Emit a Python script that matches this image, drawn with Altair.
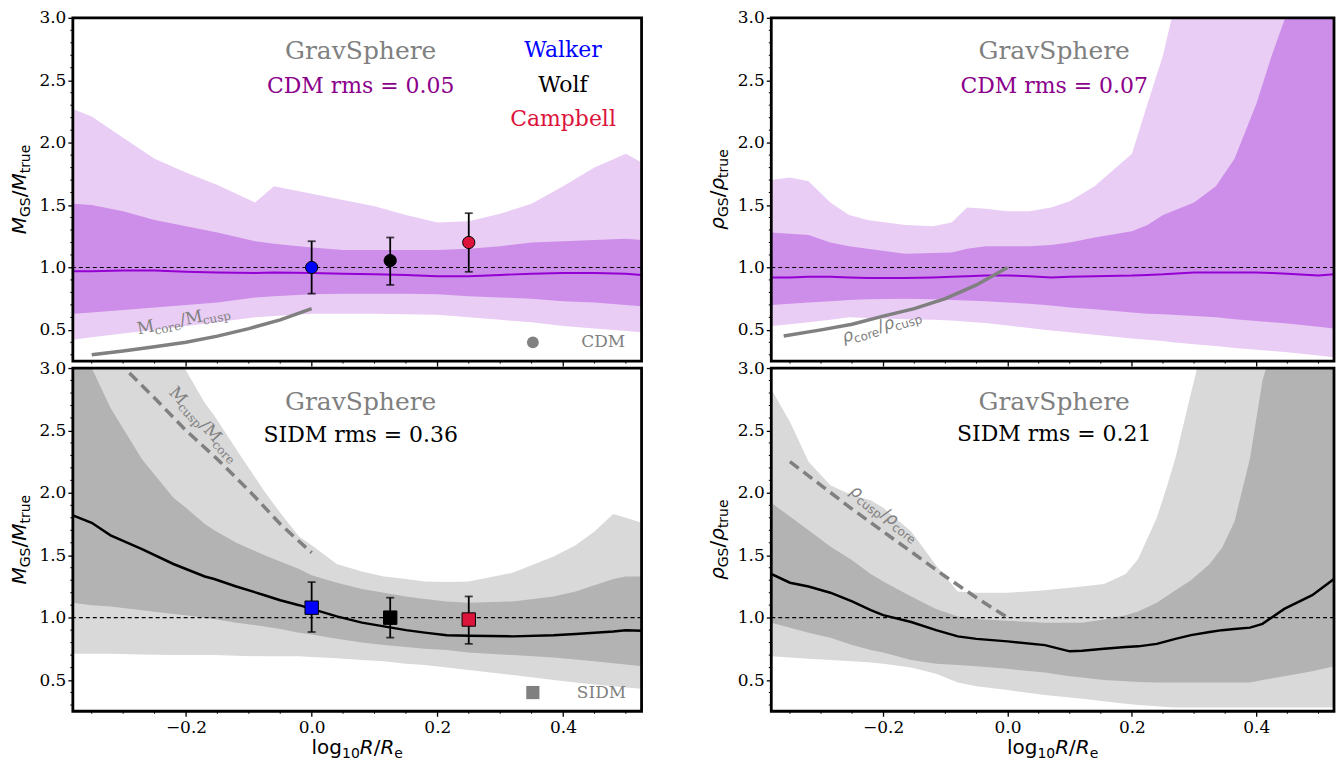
import altair as alt
import pandas as pd

# ------------------------------------------------------------------ data
# top-left: M_GS/M_true, CDM
X_TL = [-0.38, -0.35, -0.30, -0.25, -0.20, -0.15, -0.09, -0.06, 0.00, 0.05,
        0.10, 0.15, 0.20, 0.25, 0.30, 0.35, 0.40, 0.45, 0.50, 0.525]
TL_LO95 = [0.42, 0.44, 0.47, 0.50, 0.53, 0.56, 0.60, 0.61, 0.63, 0.63,
           0.63, 0.625, 0.62, 0.60, 0.58, 0.56, 0.53, 0.51, 0.49, 0.48]
TL_LO68 = [0.63, 0.64, 0.66, 0.68, 0.70, 0.72, 0.76, 0.77, 0.785, 0.79,
           0.79, 0.79, 0.785, 0.77, 0.76, 0.75, 0.73, 0.72, 0.70, 0.69]
TL_MED = [0.97, 0.97, 0.975, 0.975, 0.965, 0.96, 0.955, 0.96, 0.955, 0.95,
          0.945, 0.94, 0.93, 0.93, 0.94, 0.95, 0.955, 0.955, 0.95, 0.94]
TL_HI68 = [1.51, 1.50, 1.45, 1.38, 1.33, 1.28, 1.21, 1.19, 1.16, 1.14,
           1.14, 1.14, 1.14, 1.15, 1.17, 1.20, 1.21, 1.22, 1.23, 1.22]
TL_HI95 = [2.27, 2.21, 2.04, 1.87, 1.76, 1.66, 1.52, 1.65, 1.59, 1.54,
           1.49, 1.42, 1.36, 1.37, 1.43, 1.51, 1.65, 1.80, 1.91, 1.84]

# top-right: rho_GS/rho_true, CDM
X_TR = [-0.38, -0.35, -0.32, -0.285, -0.255, -0.225, -0.165, -0.12, -0.09, -0.065,
        -0.035, 0.0, 0.035, 0.07, 0.10, 0.14, 0.20, 0.225, 0.25, 0.265,
        0.30, 0.335, 0.365, 0.40, 0.425, 0.45, 0.50, 0.525]
TR_LO95 = [0.53, 0.545, 0.56, 0.58, 0.60, 0.595, 0.585, 0.58, 0.575, 0.565,
           0.555, 0.535, 0.515, 0.495, 0.48, 0.46, 0.43, 0.42, 0.41, 0.40,
           0.385, 0.37, 0.355, 0.34, 0.33, 0.32, 0.295, 0.28]
TR_LO68 = [0.70, 0.71, 0.72, 0.73, 0.74, 0.745, 0.75, 0.745, 0.74, 0.735,
           0.73, 0.72, 0.71, 0.695, 0.68, 0.665, 0.64, 0.63, 0.625, 0.62,
           0.61, 0.60, 0.585, 0.57, 0.56, 0.55, 0.525, 0.51]
TR_MED = [0.92, 0.92, 0.925, 0.925, 0.92, 0.915, 0.915, 0.92, 0.925, 0.93,
          0.935, 0.935, 0.93, 0.92, 0.925, 0.93, 0.935, 0.94, 0.945, 0.95,
          0.96, 0.96, 0.96, 0.96, 0.955, 0.95, 0.935, 0.945]
TR_HI68 = [1.28, 1.27, 1.26, 1.20, 1.17, 1.15, 1.11, 1.115, 1.12, 1.15,
           1.17, 1.17, 1.17, 1.18, 1.20, 1.24, 1.29, 1.34, 1.42, 1.45,
           1.52, 1.65, 1.87, 2.31, 2.70, 3.05, 3.80, 4.00]
TR_HI95 = [1.70, 1.72, 1.69, 1.52, 1.42, 1.38, 1.34, 1.33, 1.36, 1.48,
           1.47, 1.45, 1.45, 1.48, 1.53, 1.65, 1.91, 2.31, 2.70, 3.02,
           3.50, 4.00, 4.00, 4.00, 4.00, 4.00, 4.00, 4.00]

# bottom-left: M_GS/M_true, SIDM
X_BL = [-0.38, -0.35, -0.32, -0.27, -0.22, -0.20, -0.17, -0.155, -0.12, -0.075,
        -0.05, -0.02, 0.0, 0.04, 0.08, 0.115, 0.15, 0.18, 0.215, 0.25,
        0.32, 0.385, 0.42, 0.45, 0.48, 0.50, 0.525]
BL_LO95 = [0.71, 0.71, 0.71, 0.705, 0.70, 0.70, 0.70, 0.70, 0.695, 0.69,
           0.69, 0.69, 0.685, 0.675, 0.66, 0.65, 0.63, 0.62, 0.60, 0.58,
           0.54, 0.50, 0.48, 0.465, 0.45, 0.44, 0.43]
BL_LO68 = [1.12, 1.10, 1.09, 1.06, 1.03, 1.02, 1.00, 0.99, 0.96, 0.93,
           0.91, 0.88, 0.865, 0.83, 0.80, 0.78, 0.765, 0.75, 0.74, 0.72,
           0.70, 0.68, 0.665, 0.65, 0.635, 0.625, 0.61]
BL_MED = [1.82, 1.76, 1.66, 1.55, 1.43, 1.39, 1.33, 1.31, 1.25, 1.18,
          1.14, 1.10, 1.07, 1.01, 0.96, 0.93, 0.90, 0.88, 0.86, 0.855,
          0.85, 0.86, 0.87, 0.88, 0.89, 0.90, 0.895]
BL_HI68 = [3.10, 3.00, 2.68, 2.27, 1.96, 1.88, 1.75, 1.70, 1.60, 1.50,
           1.45, 1.39, 1.34, 1.28, 1.23, 1.20, 1.17, 1.15, 1.13, 1.12,
           1.13, 1.17, 1.21, 1.26, 1.31, 1.33, 1.33]
BL_HI95 = [3.60, 3.55, 3.45, 3.25, 3.08, 2.98, 2.72, 2.62, 2.35, 2.01,
           1.84, 1.65, 1.58, 1.43, 1.37, 1.33, 1.31, 1.29, 1.285, 1.29,
           1.36, 1.49, 1.58, 1.69, 1.83, 1.80, 1.76]

# bottom-right: rho_GS/rho_true, SIDM
X_BR = [-0.38, -0.35, -0.32, -0.285, -0.25, -0.22, -0.20, -0.155, -0.115, -0.08,
        -0.05, 0.0, 0.06, 0.10, 0.12, 0.155, 0.19, 0.21, 0.24, 0.255,
        0.27, 0.295, 0.325, 0.345, 0.365, 0.39, 0.41, 0.445, 0.49, 0.525]
BR_LO95 = [0.69, 0.68, 0.67, 0.66, 0.65, 0.64, 0.63, 0.60, 0.55, 0.48,
           0.45, 0.42, 0.38, 0.36, 0.35, 0.33, 0.31, 0.30, 0.29, 0.285,
           0.28, 0.28, 0.28, 0.28, 0.28, 0.28, 0.28, 0.28, 0.28, 0.28]
BR_LO68 = [0.96, 0.92, 0.88, 0.84, 0.78, 0.74, 0.72, 0.66, 0.63, 0.62,
           0.61, 0.59, 0.56, 0.53, 0.52, 0.50, 0.49, 0.485, 0.48, 0.48,
           0.48, 0.48, 0.48, 0.48, 0.48, 0.48, 0.50, 0.53, 0.57, 0.61]
BR_MED = [1.35, 1.28, 1.25, 1.20, 1.13, 1.06, 1.02, 0.965, 0.90, 0.85,
          0.83, 0.81, 0.78, 0.73, 0.735, 0.75, 0.765, 0.77, 0.79, 0.81,
          0.83, 0.86, 0.885, 0.90, 0.91, 0.92, 0.95, 1.07, 1.18, 1.31]
BR_HI68 = [1.92, 1.81, 1.70, 1.57, 1.46, 1.35, 1.29, 1.17, 1.07, 1.01,
           0.99, 0.975, 0.96, 0.96, 0.96, 0.985, 1.02, 1.05, 1.12, 1.17,
           1.22, 1.30, 1.43, 1.56, 1.77, 2.28, 2.90, 3.50, 4.00, 4.00]
BR_HI95 = [2.83, 2.57, 2.25, 2.06, 1.98, 1.94, 1.88, 1.69, 1.42, 1.21,
           1.20, 1.20, 1.22, 1.24, 1.25, 1.27, 1.35, 1.47, 1.80, 2.03,
           2.28, 2.80, 3.40, 3.70, 4.00, 4.00, 4.00, 4.00, 4.00, 4.00]

# core / cusp reference curves
TL_CURVE_X = [-0.35, -0.30, -0.25, -0.20, -0.15, -0.10, -0.05, 0.0]
TL_CURVE_Y = [0.30, 0.33, 0.365, 0.40, 0.45, 0.51, 0.58, 0.67]
TR_CURVE_X = [-0.36, -0.30, -0.25, -0.20, -0.15, -0.10, -0.05, 0.0]
TR_CURVE_Y = [0.45, 0.50, 0.545, 0.61, 0.67, 0.75, 0.86, 1.0]
BL_CURVE_X = [-0.29, -0.25, -0.20, -0.15, -0.10, -0.05, 0.0]
BL_CURVE_Y = [2.96, 2.76, 2.50, 2.27, 2.02, 1.75, 1.52]
BR_CURVE_X = [-0.35, -0.30, -0.25, -0.20, -0.15, -0.10, -0.05, 0.0]
BR_CURVE_Y = [2.25, 2.06, 1.87, 1.69, 1.51, 1.33, 1.16, 1.0]

# mass estimators
EST_NAMES = ["Walker", "Wolf", "Campbell"]
EST_COLORS = ["#0000ff", "#000000", "#dc143c"]
EST_X = [0.0, 0.125, 0.25]
CDM_EST_Y = [1.00, 1.055, 1.20]
CDM_EST_LO = [0.79, 0.86, 0.965]
CDM_EST_HI = [1.21, 1.24, 1.435]
SIDM_EST_Y = [1.08, 1.00, 0.985]
SIDM_EST_LO = [0.885, 0.84, 0.79]
SIDM_EST_HI = [1.285, 1.16, 1.17]

X_MAJOR = [-0.2, 0.0, 0.2, 0.4]
X_MINOR = [-0.35, -0.30, -0.25, -0.15, -0.10, -0.05, 0.05, 0.10, 0.15,
           0.25, 0.30, 0.35, 0.45, 0.50]
Y_MAJOR = [0.5, 1.0, 1.5, 2.0, 2.5, 3.0]
Y_MINOR = [0.3, 0.4, 0.6, 0.7, 0.8, 0.9, 1.1, 1.2, 1.3, 1.4, 1.6, 1.7, 1.8,
           1.9, 2.1, 2.2, 2.3, 2.4, 2.6, 2.7, 2.8, 2.9]

# ------------------------------------------------------------------ style
SANS = "DejaVu Sans"
SERIF = "DejaVu Serif"
GRAY = "#808080"
PURPLE_TXT = "#8b008b"
PURPLE_MED = "#9400d3"
PURPLE_LIGHT = "#e9cdf4"
PURPLE_DARK = "#cd8ee9"
GRAY_LIGHT = "#d9d9d9"
GRAY_DARK = "#b3b3b3"
TICK_FS = 17

W_L, W_R, H = 570, 564, 344
XS = alt.Scale(domain=[-0.38, 0.525], nice=False, zero=False)
YS = alt.Scale(domain=[0.25, 3.0], nice=False, zero=False)

SANS_W = {'M': 0.863, 'G': 0.775, 'S': 0.635, '/': 0.337, 't': 0.392, 'r': 0.411,
          'u': 0.634, 'e': 0.615, 'l': 0.278, 'o': 0.612, 'g': 0.635, '1': 0.636,
          '0': 0.636, 'R': 0.695, 'ρ': 0.635, 'c': 0.55, 's': 0.521, 'p': 0.635}
SERIF_W = {'M': 0.994, 'c': 0.562, 'o': 0.602, 'r': 0.478, 'e': 0.592,
           'u': 0.644, 's': 0.514, 'p': 0.640, '/': 0.337}


def tw(s, font, size):
    table = SANS_W if font == SANS else SERIF_W
    return sum(table.get(ch, 0.6) for ch in s) * size


def one():
    return pd.DataFrame({"a": [0]})


def xaxis(labels):
    return alt.Axis(values=X_MAJOR, format=".1f", labels=labels, title=None, grid=False,
                    domain=False, ticks=True, tickSize=5, tickWidth=1.3, tickColor="black",
                    labelFont=SERIF, labelFontSize=TICK_FS, labelColor="black",
                    labelPadding=3, labelFlush=False, labelOverlap=False)


def yaxis():
    return alt.Axis(values=Y_MAJOR, format=".1f", title=None, grid=False, domain=False,
                    ticks=True, tickSize=5, tickWidth=1.3, tickColor="black",
                    labelFont=SERIF, labelFontSize=TICK_FS, labelColor="black",
                    labelPadding=2, labelFlush=False, labelOverlap=False)


def panel(W, xs, lo95, lo68, med, hi68, hi95, light, dark, medc, medw, bottom,
          cx, cy, cdash, clabel, canchor, cangle, sym, texts,
          est=None, legend=None):
    XA = xaxis(bottom)
    YA = yaxis()

    def xq(field="x"):
        return alt.X(f"{field}:Q", scale=XS, axis=XA)

    def yq(field):
        return alt.Y(f"{field}:Q", scale=YS, axis=YA)

    def rich(pieces, xenc, yenc, angle, color, center, df=None):
        widths = [tw(t, f, s) for (t, f, s, it, dy) in pieces]
        cum = -sum(widths) / 2 if center else 0.0
        out = []
        for (t, f, s, it, dy), w in zip(pieces, widths):
            kw = dict(text=t, font=f, fontSize=s, fontStyle="italic" if it else "normal",
                      align="left", baseline="alphabetic", color=color,
                      dx=round(cum, 2), dy=dy)
            if angle:
                kw["angle"] = angle
            data = df if df is not None else one()
            out.append(alt.Chart(data).mark_text(**kw).encode(x=xenc, y=yenc))
            cum += w
        return out

    df = pd.DataFrame({"x": xs, "lo95": lo95, "lo68": lo68, "med": med,
                       "hi68": hi68, "hi95": hi95})
    layers = []
    layers.append(alt.Chart(df).mark_area(color=light, clip=True).encode(
        x=xq(), y=yq("lo95"), y2="hi95:Q"))
    layers.append(alt.Chart(df).mark_area(color=dark, clip=True).encode(
        x=xq(), y=yq("lo68"), y2="hi68:Q"))
    layers.append(alt.Chart(df).mark_line(color=medc, strokeWidth=medw, clip=True).encode(
        x=xq(), y=yq("med")))
    layers.append(alt.Chart(pd.DataFrame({"y": [1.0]})).mark_rule(
        color="black", strokeDash=[4, 3], strokeWidth=1.1).encode(y=yq("y")))
    cdf = pd.DataFrame({"x": cx, "y": cy})
    ckw = dict(color=GRAY, strokeWidth=3.5, clip=True)
    if cdash:
        ckw["strokeDash"] = [11, 6]
    layers.append(alt.Chart(cdf).mark_line(**ckw).encode(x=xq(), y=yq("y")))
    adf = pd.DataFrame({"x": [canchor[0]], "y": [canchor[1]]})
    layers += rich(clabel, xq(), yq("y"), cangle, GRAY, False, adf)

    for (t, x, y, c, s) in texts:
        tdf = pd.DataFrame({"x": [x], "y": [y]})
        layers.append(alt.Chart(tdf).mark_text(text=t, font=SERIF, fontSize=s, color=c,
                                               align="center", baseline="middle").encode(
            x=xq(), y=yq("y")))

    if est is not None:
        ey, elo, ehi, shape, size = est
        edf = pd.DataFrame({"x": EST_X, "y": ey, "lo": elo, "hi": ehi, "c": EST_COLORS})
        layers.append(alt.Chart(edf).mark_rule(color="black", strokeWidth=1.8).encode(
            x=xq(), y=yq("lo"), y2="hi:Q"))
        for f in ["lo", "hi"]:
            layers.append(alt.Chart(edf).mark_tick(orient="horizontal", size=8,
                                                   thickness=1.8, color="black").encode(
                x=xq(), y=yq(f)))
        layers.append(alt.Chart(edf).mark_point(filled=True, shape=shape, size=size,
                                                stroke="black", strokeWidth=1,
                                                opacity=1).encode(
            x=xq(), y=yq("y"), fill=alt.Fill("c:N", scale=None)))

    if legend is not None:
        lname, shape, size, lx, tx, ly = legend
        ldf = pd.DataFrame({"x": [lx], "tx": [tx], "y": [ly]})
        layers.append(alt.Chart(ldf).mark_point(filled=True, shape=shape, size=size,
                                                color=GRAY, opacity=1).encode(
            x=xq(), y=yq("y")))
        layers.append(alt.Chart(ldf).mark_text(text=lname, font=SERIF, fontSize=17,
                                               color=GRAY, align="left",
                                               baseline="middle").encode(
            x=xq("tx"), y=yq("y")))

    # minor ticks
    layers.append(alt.Chart(pd.DataFrame({"x": X_MINOR})).mark_rule(
        color="black", strokeWidth=1).encode(x=xq(), y=alt.value(H), y2=alt.value(H + 2.5)))
    layers.append(alt.Chart(pd.DataFrame({"y": Y_MINOR})).mark_rule(
        color="black", strokeWidth=1).encode(y=yq("y"), x=alt.value(0), x2=alt.value(-2.5)))

    # y title
    layers += rich([(sym, SANS, 20, True, 0), ("GS", SANS, 14, False, 4),
                    ("/", SANS, 20, False, 0), (sym, SANS, 20, True, 0),
                    ("true", SANS, 14, False, 4)],
                   alt.value(-47), alt.value(H / 2), 270, "black", True)
    if bottom:
        layers += rich([("log", SANS, 20, False, 0), ("10", SANS, 14, False, 4),
                        ("R", SANS, 20, True, 0), ("/", SANS, 20, False, 0),
                        ("R", SANS, 20, True, 0), ("e", SANS, 14, False, 4)],
                       alt.value(W / 2), alt.value(H + 43), 0, "black", True)

    # frame
    layers.append(alt.Chart(one()).mark_rect(fillOpacity=0, stroke="black",
                                             strokeWidth=2.8).encode(
        x=alt.value(0), x2=alt.value(W), y=alt.value(0), y2=alt.value(H)))
    return alt.layer(*layers).properties(width=W, height=H)


M_CORE_CUSP = [("M", SERIF, 17, False, 0), ("core", SERIF, 12, False, 3.5),
               ("/", SERIF, 17, False, 0), ("M", SERIF, 17, False, 0),
               ("cusp", SERIF, 12, False, 3.5)]
M_CUSP_CORE = [("M", SERIF, 17, False, 0), ("cusp", SERIF, 12, False, 3.5),
               ("/", SERIF, 17, False, 0), ("M", SERIF, 17, False, 0),
               ("core", SERIF, 12, False, 3.5)]
R_CORE_CUSP = [("ρ", SANS, 17, True, 0), ("core", SANS, 12, False, 3.5),
               ("/", SANS, 17, False, 0), ("ρ", SANS, 17, True, 0),
               ("cusp", SANS, 12, False, 3.5)]
R_CUSP_CORE = [("ρ", SANS, 17, True, 0), ("cusp", SANS, 12, False, 3.5),
               ("/", SANS, 17, False, 0), ("ρ", SANS, 17, True, 0),
               ("core", SANS, 12, False, 3.5)]

tl = panel(W_L, X_TL, TL_LO95, TL_LO68, TL_MED, TL_HI68, TL_HI95,
           PURPLE_LIGHT, PURPLE_DARK, PURPLE_MED, 2, False,
           TL_CURVE_X, TL_CURVE_Y, False, M_CORE_CUSP, (-0.276, 0.462), 348.5, "M",
           [("GravSphere", 0.078, 2.736, GRAY, 25),
            ("CDM rms = 0.05", 0.078, 2.457, PURPLE_TXT, 22),
            ("Walker", 0.40, 2.74, "#0000ff", 22),
            ("Wolf", 0.40, 2.465, "black", 22),
            ("Campbell", 0.40, 2.19, "#dc143c", 22)],
           est=(CDM_EST_Y, CDM_EST_LO, CDM_EST_HI, "circle", 150),
           legend=("CDM", "circle", 140, 0.352, 0.429, 0.40))

tr = panel(W_R, X_TR, TR_LO95, TR_LO68, TR_MED, TR_HI68, TR_HI95,
           PURPLE_LIGHT, PURPLE_DARK, PURPLE_MED, 2, False,
           TR_CURVE_X, TR_CURVE_Y, False, R_CORE_CUSP, (-0.263, 0.396), 343.2, "ρ",
           [("GravSphere", 0.075, 2.736, GRAY, 25),
            ("CDM rms = 0.07", 0.075, 2.457, PURPLE_TXT, 22)])

bl = panel(W_L, X_BL, BL_LO95, BL_LO68, BL_MED, BL_HI68, BL_HI95,
           GRAY_LIGHT, GRAY_DARK, "black", 2.5, True,
           BL_CURVE_X, BL_CURVE_Y, True, M_CUSP_CORE, (-0.228, 2.80), 47.6, "M",
           [("GravSphere", 0.078, 2.728, GRAY, 25),
            ("SIDM rms = 0.36", 0.078, 2.466, "black", 22)],
           est=(SIDM_EST_Y, SIDM_EST_LO, SIDM_EST_HI, "square", 180),
           legend=("SIDM", "square", 175, 0.352, 0.422, 0.40))

br = panel(W_R, X_BR, BR_LO95, BR_LO68, BR_MED, BR_HI68, BR_HI95,
           GRAY_LIGHT, GRAY_DARK, "black", 2.5, True,
           BR_CURVE_X, BR_CURVE_Y, True, R_CUSP_CORE, (-0.255, 2.0), 37, "ρ",
           [("GravSphere", 0.075, 2.73, GRAY, 25),
            ("SIDM rms = 0.21", 0.075, 2.47, "black", 22)])

chart = alt.concat(tl, tr, bl, br, columns=2, spacing={"row": 7, "column": 130},
                   bounds="flush").properties(
    padding={"left": 2, "top": 0, "right": 0, "bottom": 0}
).configure_view(strokeWidth=0).configure_axis(
    labelFont=SERIF, labelFontSize=TICK_FS, labelColor="black"
)

chart.save("out.html", embed_options={"renderer": "svg", "actions": False})
